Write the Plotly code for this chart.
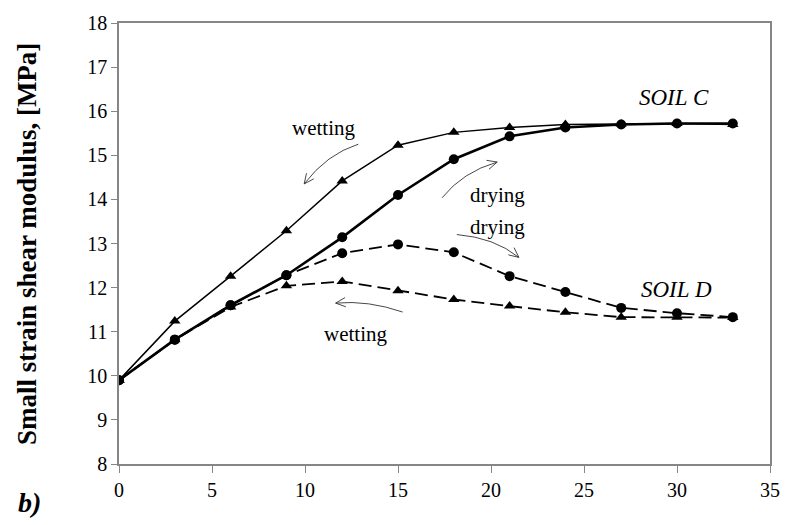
import math
import plotly.graph_objects as go

# ---- data ----
x_vals = [0, 3, 6, 9, 12, 15, 18, 21, 24, 27, 30, 33]
soil_c_drying = [9.9, 10.82, 11.6, 12.28, 13.14, 14.1, 14.91, 15.43, 15.63, 15.7, 15.72, 15.72]
soil_c_wetting = [9.9, 11.24, 12.26, 13.29, 14.42, 15.23, 15.52, 15.63, 15.7, 15.71, 15.72, 15.7]
soil_d_drying = [9.9, 10.82, 11.6, 12.28, 12.78, 12.98, 12.8, 12.26, 11.9, 11.54, 11.42, 11.33]
soil_d_wetting = [9.9, 10.82, 11.56, 12.04, 12.14, 11.93, 11.73, 11.58, 11.44, 11.33, 11.33, 11.32]
x_ticks = [0, 5, 10, 15, 20, 25, 30, 35]
y_ticks = [8, 9, 10, 11, 12, 13, 14, 15, 16, 17, 18]

W, H = 792, 525
L, R, T, B = 119, 12, 20, 61
XMIN, XMAX, YMIN, YMAX = 0, 35, 8, 18
PW, PH = W - L - R, H - T - B

FONT = "Liberation Serif"
GRAY = "#868686"


def to_data(px, py):
    return (XMIN + (px - L) / PW * (XMAX - XMIN),
            YMAX - (py - T) / PH * (YMAX - YMIN))


fig = go.Figure()

fig.add_trace(go.Scatter(x=x_vals, y=soil_d_wetting, mode="lines+markers",
                         line=dict(color="black", width=1.8, dash="13px,6px"),
                         marker=dict(symbol="triangle-up", size=10, color="black"),
                         showlegend=False))
fig.add_trace(go.Scatter(x=x_vals, y=soil_d_drying, mode="lines+markers",
                         line=dict(color="black", width=1.8, dash="13px,6px"),
                         marker=dict(symbol="circle", size=10, color="black"),
                         showlegend=False))
fig.add_trace(go.Scatter(x=x_vals, y=soil_c_wetting, mode="lines+markers",
                         line=dict(color="black", width=1.5),
                         marker=dict(symbol="triangle-up", size=10, color="black"),
                         showlegend=False))
fig.add_trace(go.Scatter(x=x_vals, y=soil_c_drying, mode="lines+markers",
                         line=dict(color="black", width=2.6),
                         marker=dict(symbol="circle", size=10, color="black"),
                         showlegend=False))

# curved arrows (pixel geometry of the decorations)
arrows = [
    ((362, 142), (330, 152), (307, 182)),
    ((447, 196), (468, 170), (503, 160)),
    ((462, 233), (500, 236), (525, 256)),
    ((407, 311), (372, 299), (339, 302)),
]
for (s, c, t) in arrows:
    sx, sy = to_data(*s)
    cx, cy = to_data(*c)
    tx, ty = to_data(*t)
    path = f"M {sx},{sy} Q {cx},{cy} {tx},{ty}"
    ang = math.atan2(t[1] - c[1], t[0] - c[0])
    hl = 11
    pts = []
    for d in (math.radians(155), math.radians(-155)):
        pts.append((t[0] + hl * math.cos(ang + d), t[1] + hl * math.sin(ang + d)))
    a1 = to_data(*pts[0])
    a2 = to_data(*pts[1])
    path += f" M {a1[0]},{a1[1]} L {tx},{ty} L {a2[0]},{a2[1]}"
    fig.add_shape(type="path", path=path, xref="x", yref="y",
                  line=dict(color="#333333", width=0.9))

labels = [
    ("wetting", (327, 126), 21),
    ("drying", (503, 193), 21),
    ("drying", (503, 225), 21),
    ("wetting", (359, 333), 21),
    ("<i>SOIL C</i>", (683, 95), 23),
    ("<i>SOIL D</i>", (685, 288), 23),
]
for text, (px, py), sz in labels:
    xd, yd = to_data(px, py)
    fig.add_annotation(x=xd, y=yd, xref="x", yref="y", text=text, showarrow=False,
                       font=dict(family=FONT, size=sz, color="black"),
                       xanchor="center", yanchor="middle")

fig.add_annotation(x=(25 - L) / PW, y=0.5, xref="paper", yref="paper",
                   text="<b>Small strain shear modulus, [MPa]</b>", textangle=-90,
                   showarrow=False, font=dict(family=FONT, size=27, color="black"),
                   xanchor="center", yanchor="middle")
fig.add_annotation(x=(28 - L) / PW, y=(H - B - 503) / PH, xref="paper", yref="paper",
                   text="<b><i>b)</i></b>", showarrow=False,
                   font=dict(family=FONT, size=28, color="black"),
                   xanchor="center", yanchor="middle")

fig.update_layout(
    width=W, height=H,
    margin=dict(l=L, r=R, t=T, b=B),
    paper_bgcolor="white", plot_bgcolor="white",
    font=dict(family=FONT, size=20, color="black"),
    showlegend=False,
)
fig.update_xaxes(range=[XMIN, XMAX], tickvals=x_ticks, ticktext=[str(v) for v in x_ticks],
                 showgrid=False, zeroline=False, showline=True, linecolor=GRAY,
                 linewidth=1.5, mirror=True, ticks="outside", tickcolor=GRAY,
                 ticklen=7, tickwidth=1.3, tickfont=dict(family=FONT, size=20))
fig.update_yaxes(range=[YMIN, YMAX], tickvals=y_ticks, ticktext=[str(v) for v in y_ticks],
                 showgrid=False, zeroline=False, showline=True, linecolor=GRAY,
                 linewidth=1.5, mirror=True, ticks="outside", tickcolor=GRAY,
                 ticklen=6, tickwidth=1.3, tickfont=dict(family=FONT, size=20))

fig.write_html("out.html",
               config={"displayModeBar": False},
               post_script="document.body.style.margin='0';"
                           "document.body.style.overflow='hidden';")
